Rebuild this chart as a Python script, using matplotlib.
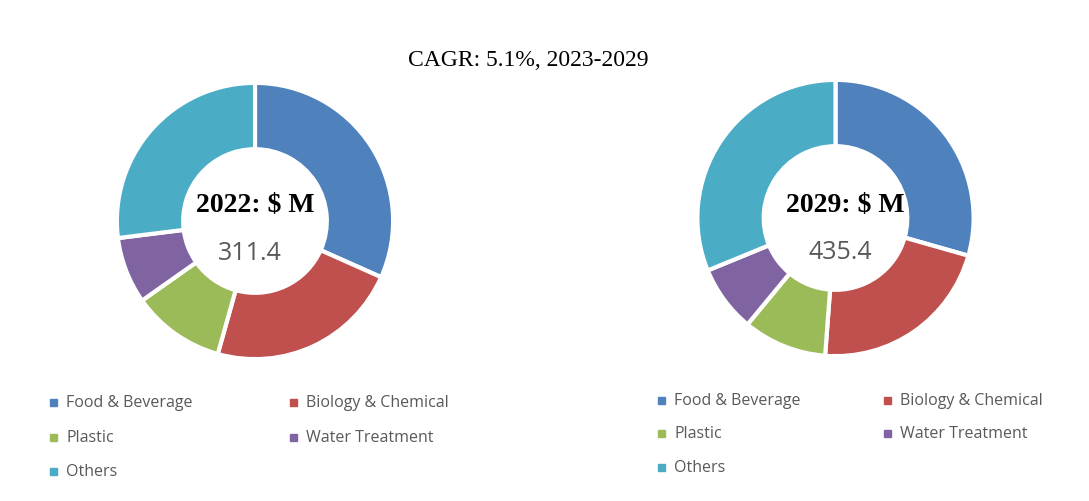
import matplotlib
matplotlib.use("Agg")
import matplotlib.pyplot as plt

categories = ["Food & Beverage", "Biology & Chemical", "Plastic", "Water Treatment", "Others"]
colors = ["#4F81BD", "#C0504D", "#9BBB59", "#8064A2", "#4BACC6"]
share_2022 = [31.7, 22.7, 10.9, 7.8, 27.0]
share_2029 = [29.4, 21.8, 9.8, 7.8, 31.2]
years = ["2022", "2029"]
totals = ["311.4", "435.4"]
title = "CAGR: 5.1%, 2023-2029"

W, H = 1089, 502
fig = plt.figure(figsize=(W / 100, H / 100), dpi=100)

# donut centre (px), radius (px)
donuts = [(255, 222, 139.5), (835.5, 219, 139.5)]
text_x = [(255.5, 250), (845.5, 840.5)]
legend_pos = [(53, 293, [403, 438, 472]), (661, 887, [401, 434, 468])]

for i, values in enumerate([share_2022, share_2029]):
    cx, cy, r = donuts[i]
    ax = fig.add_axes([(cx - r) / W, (H - cy - r) / H, 2 * r / W, 2 * r / H])
    ax.pie(values, colors=colors, startangle=90, counterclock=False, radius=1,
           wedgeprops=dict(width=0.48, edgecolor="white", linewidth=3))
    ax.set_xlim(-1.01, 1.01)
    ax.set_ylim(-1.01, 1.01)
    ax.axis("off")

    tx, nx = text_x[i]
    fig.text(tx / W, 1 - 205 / H, years[i] + r": \$ M", ha="center", va="center",
             fontsize=20, fontweight="bold", family="Liberation Serif", color="black")
    fig.text(nx / W, 1 - (254 - 1.5 * i) / H, totals[i], ha="center", va="center",
             fontsize=18, family="Open Sans", color="#595959")

    # legend
    x1, x2, rows = legend_pos[i]
    for k, cat in enumerate(categories):
        mx = x1 if k % 2 == 0 else x2
        my = rows[k // 2]
        fig.patches.append(plt.Rectangle(((mx - 3.5) / W, (H - my - 3.5) / H), 7 / W, 7 / H,
                                         transform=fig.transFigure, color=colors[k]))
        fig.text((mx + 13) / W, 1 - my / H, cat, ha="left", va="center",
                 fontsize=11.5, family="Open Sans", color="#595959")

fig.text(528 / W, 1 - 60 / H, title, ha="center", va="center",
         fontsize=17, family="Liberation Serif", color="black")

fig.savefig("out.png", dpi=100)
